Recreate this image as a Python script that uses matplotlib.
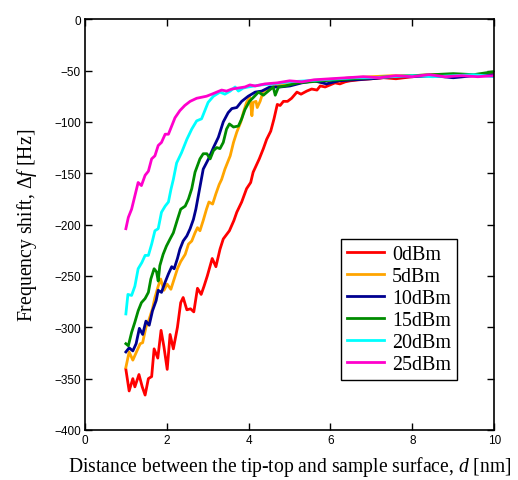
import matplotlib
matplotlib.use("Agg")
import matplotlib.pyplot as plt

plt.rcParams['mathtext.fontset'] = 'custom'
plt.rcParams['mathtext.rm'] = 'Liberation Serif'
plt.rcParams['mathtext.it'] = 'Liberation Serif:italic'

# distance d [nm] and frequency shift [Hz]
d_0 = [1.00, 1.08, 1.17, 1.22, 1.32, 1.40, 1.47, 1.55, 1.63, 1.69, 1.78, 1.86, 1.93, 2.01,
       2.08, 2.16, 2.26, 2.34, 2.40, 2.49, 2.58, 2.66, 2.75, 2.84, 2.91, 2.99, 3.11, 3.20,
       3.30, 3.38, 3.53, 3.64, 3.71, 3.83, 3.95, 4.05, 4.11, 4.26, 4.36, 4.44, 4.54, 4.62,
       4.70, 4.77, 4.85, 4.95, 5.05, 5.18, 5.28, 5.42, 5.54, 5.67, 5.75, 5.87, 5.99, 6.11,
       6.23, 6.36, 6.48, 6.7, 7.0, 7.3, 7.6, 8.0, 8.4, 8.8, 9.2, 9.6, 10.0]
f_0 = [-341, -362, -350, -358, -346, -358, -366, -350, -348, -321, -330, -303, -319, -341,
       -307, -321, -300, -276, -271, -283, -282, -285, -262, -268, -260, -250, -233, -241,
       -224, -214, -206, -196, -188, -178, -165, -159, -149, -136, -126, -117, -109, -97,
       -83, -84, -80, -80, -77, -71, -73, -70, -68, -69, -65, -66, -64, -62,
       -63, -61, -60, -59, -58, -57, -58, -56, -55, -56, -55, -54, -55]

d_5 = [1.00, 1.08, 1.17, 1.27, 1.35, 1.41, 1.49, 1.57, 1.65, 1.71, 1.79, 1.85, 1.93, 2.01,
       2.10, 2.18, 2.26, 2.34, 2.45, 2.53, 2.61, 2.69, 2.75, 2.81, 2.89, 2.97, 3.03, 3.12,
       3.20, 3.28, 3.34, 3.42, 3.55, 3.63, 3.71, 3.81, 3.87, 3.95, 4.03, 4.08, 4.11, 4.18,
       4.21, 4.28, 4.36, 4.48, 4.60, 4.8, 5.0, 5.3, 5.6, 6.0, 6.5, 7.0, 7.5, 8.0, 8.5, 9.0,
       9.5, 10.0]
f_5 = [-339, -324, -332, -323, -316, -315, -300, -292, -282, -271, -260, -253, -264, -258,
       -263, -253, -243, -236, -229, -219, -216, -208, -203, -206, -196, -185, -178, -180,
       -170, -161, -156, -146, -133, -120, -110, -100, -91, -81, -76, -94, -81, -80,
       -86, -80, -70, -68, -66, -64, -62, -61, -60, -59, -57, -56, -55, -55, -54, -54,
       -55, -53]

d_10 = [1.00, 1.08, 1.17, 1.25, 1.33, 1.41, 1.49, 1.57, 1.65, 1.74, 1.79, 1.87, 1.96, 2.04,
        2.12, 2.18, 2.26, 2.32, 2.40, 2.49, 2.57, 2.65, 2.71, 2.77, 2.83, 2.89, 3.02, 3.14,
        3.26, 3.38, 3.50, 3.59, 3.71, 3.83, 3.99, 4.16, 4.32, 4.52, 4.77, 5.01, 5.3, 5.6,
        5.9, 6.2, 6.6, 7.0, 7.5, 8.0, 8.5, 9.0, 9.5, 10.0]
f_10 = [-324, -320, -323, -316, -301, -307, -294, -298, -284, -274, -264, -266, -256, -248,
        -241, -243, -233, -224, -216, -211, -204, -195, -185, -172, -159, -146, -136, -125,
        -115, -100, -91, -87, -86, -80, -75, -71, -70, -66, -66, -65, -62, -60,
        -63, -60, -59, -58, -56, -56, -55, -57, -55, -54]

d_15 = [1.00, 1.06, 1.14, 1.22, 1.30, 1.38, 1.47, 1.55, 1.61, 1.69, 1.75, 1.79, 1.83, 1.91,
        1.99, 2.08, 2.16, 2.26, 2.34, 2.45, 2.53, 2.61, 2.69, 2.81, 2.89, 2.98, 3.06, 3.14,
        3.22, 3.30, 3.38, 3.46, 3.53, 3.63, 3.75, 3.83, 3.91, 4.02, 4.12, 4.24, 4.36, 4.48,
        4.60, 4.65, 4.73, 4.89, 5.2, 5.5, 5.8, 6.2, 6.6, 7.0, 7.5, 8.0, 8.5, 9.0, 9.5, 10.0]
f_15 = [-316, -318, -305, -295, -284, -276, -272, -266, -253, -243, -246, -255, -240, -229,
        -221, -214, -208, -195, -185, -182, -175, -165, -149, -136, -131, -131, -136, -128,
        -125, -126, -120, -107, -102, -105, -104, -97, -88, -80, -76, -71, -74, -70,
        -66, -74, -66, -65, -62, -61, -60, -59, -58, -57, -56, -55, -54, -53, -54, -51]

d_20 = [1.00, 1.05, 1.14, 1.22, 1.30, 1.39, 1.47, 1.55, 1.63, 1.71, 1.79, 1.87, 1.96, 2.04,
        2.10, 2.16, 2.24, 2.36, 2.49, 2.61, 2.73, 2.85, 2.93, 3.01, 3.14, 3.30, 3.42, 3.55,
        3.67, 3.75, 3.87, 3.99, 4.3, 4.6, 5.0, 5.4, 5.8, 6.2, 6.6, 7.0, 7.5, 8.0, 8.5, 9.0,
        9.5, 10.0]
f_20 = [-287, -268, -269, -260, -243, -237, -230, -230, -219, -206, -204, -188, -182, -178,
        -166, -156, -140, -130, -117, -107, -99, -97, -89, -81, -75, -71, -73, -70,
        -66, -70, -67, -66, -64, -63, -61, -60, -59, -58, -57, -57, -56, -55, -56, -55,
        -54, -56]

d_25 = [1.00, 1.06, 1.14, 1.22, 1.30, 1.38, 1.47, 1.55, 1.63, 1.71, 1.79, 1.87, 1.96, 2.04,
        2.12, 2.20, 2.32, 2.44, 2.57, 2.73, 2.85, 2.97, 3.10, 3.22, 3.34, 3.46, 3.59, 3.75,
        3.91, 4.03, 4.16, 4.4, 4.7, 5.0, 5.3, 5.6, 6.0, 6.4, 6.8, 7.2, 7.6, 8.0, 8.4, 8.8,
        9.2, 9.6, 10.0]
f_25 = [-204, -193, -185, -172, -159, -162, -152, -148, -136, -133, -123, -120, -112, -112,
        -104, -96, -89, -84, -80, -77, -76, -75, -73, -71, -69, -70, -68, -67,
        -66, -64, -65, -63, -62, -60, -61, -59, -58, -57, -56, -57, -55, -56, -54, -56,
        -55, -56, -55]

labels = ['0dBm', '5dBm', '10dBm', '15dBm', '20dBm', '25dBm']
colours = ['#ff0000', '#ffa500', '#000090', '#008c00', '#00ffff', '#ff00cc']
series = [(d_0, f_0), (d_5, f_5), (d_10, f_10), (d_15, f_15), (d_20, f_20), (d_25, f_25)]

fig = plt.figure(figsize=(5.18, 4.81), dpi=100)
ax = fig.add_axes([0.164, 0.104, 0.79, 0.854])

for (d, f), c, lab in zip(series, colours, labels):
    ax.plot(d, f, color=c, lw=2, label=lab)

ax.set_xlim(0, 10)
ax.set_ylim(-400, 0)
ax.set_xticks(range(0, 11, 2))
ax.set_yticks(range(-400, 1, 50))
ax.tick_params(direction='in', top=True, right=True, length=5, width=1,
               labelsize=8.5, pad=3)
for t in ax.get_xticklabels() + ax.get_yticklabels():
    t.set_fontfamily('Liberation Sans')
for s in ax.spines.values():
    s.set_linewidth(1.2)

ax.set_xlabel('Distance between the tip-top and sample surface, $d$ [nm]',
              fontfamily='Liberation Serif', fontsize=14.1, labelpad=6)
ax.set_ylabel('Frequency shift, $\\Delta f$ [Hz]',
              fontfamily='Liberation Serif', fontsize=14.2, labelpad=11)

leg = ax.legend(loc='upper left', bbox_to_anchor=(0.626, 0.465),
                prop={'family': 'Liberation Serif', 'size': 14.4},
                fancybox=False, edgecolor='black', framealpha=1,
                handlelength=1.85, handletextpad=0.4, labelspacing=0.15,
                borderaxespad=0, borderpad=0.3)
leg.get_frame().set_linewidth(1)

fig.savefig('out.png', dpi=100)
